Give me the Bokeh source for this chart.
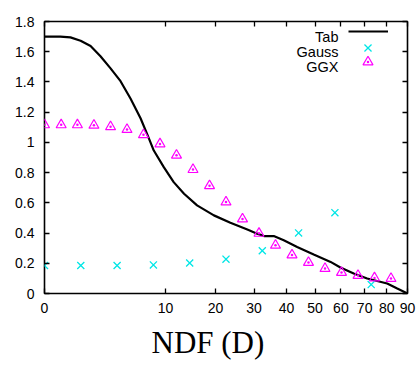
import numpy as np
from bokeh.plotting import figure
from bokeh.models import (ColumnDataSource, FixedTicker, LinearAxis, Range1d,
                          Legend, LegendItem, Label, Title)
from bokeh.embed import file_html
from bokeh.resources import INLINE

# ---- data (angles in degrees; the x axis is a square-root scale of the angle) ----
tab_theta = [0, 0.17, 0.46, 0.89, 1.45, 2.14, 2.98, 3.95, 5.05, 6.30, 7.20, 8.16,
             9.72, 11.4, 13.3, 15.9, 19.6, 23.6, 28.1, 30.9, 32.9, 35.9, 39.1,
             43.6, 49.5, 55.9, 59.8, 65.3, 71.1, 80.2, 85.0, 90.0]
tab_val = [1.70, 1.70, 1.695, 1.673, 1.638, 1.57, 1.49, 1.405, 1.29, 1.16, 1.055,
           0.946, 0.836, 0.737, 0.660, 0.583, 0.517, 0.468, 0.423, 0.396, 0.380,
           0.380, 0.352, 0.308, 0.258, 0.209, 0.172, 0.132, 0.099, 0.066, 0.033, 0.0]

gauss_theta = [0, 0.9, 3.6, 8.1, 14.4, 22.5, 32.4, 44.1, 57.6, 72.9]
gauss_val = [0.185, 0.185, 0.185, 0.189, 0.202, 0.227, 0.283, 0.401, 0.535, 0.059]

ggx_theta = [0, 0.19, 0.74, 1.67, 2.98, 4.65, 6.69, 9.11, 11.9, 15.06, 18.6, 22.5,
             26.78, 31.43, 36.45, 41.84, 47.6, 53.74, 60.25, 67.13, 74.38, 82.0]
ggx_val = [1.116, 1.116, 1.116, 1.113, 1.103, 1.085, 1.05, 0.99, 0.915, 0.82,
           0.713, 0.605, 0.493, 0.398, 0.319, 0.255, 0.205, 0.165, 0.139, 0.119,
           0.103, 0.099]

x_tick_deg = [0, 10, 20, 30, 40, 50, 60, 70, 80, 90]
x_tick_labels = ["0", "10", "20", "30", "40", "50", "60", "70", "80", "90"]
y_ticks = [0, 0.2, 0.4, 0.6, 0.8, 1.0, 1.2, 1.4, 1.6, 1.8]
y_tick_labels = ["0", "0.2", "0.4", "0.6", "0.8", "1", "1.2", "1.4", "1.6", "1.8"]

legend_names = ["Tab", "Gauss", "GGX"]
x_title = "NDF (D)"

THETA_MAX = 90.0


def sq(theta):
    return np.sqrt(np.asarray(theta, dtype=float) / THETA_MAX)


FONT = "Liberation Sans"
CYAN = "#00e6e6"
MAGENTA = "#ff00ff"

p = figure(width=417, height=368, output_backend="svg", toolbar_location=None,
           x_range=Range1d(0, 1), y_range=Range1d(0, 1.8),
           min_border_left=44, min_border_right=10, min_border_top=21,
           min_border_bottom=75)
p.xgrid.visible = False
p.ygrid.visible = False
p.outline_line_color = "black"
p.outline_line_width = 1.6
p.background_fill_color = "white"
p.border_fill_color = "white"

src_tab = ColumnDataSource(dict(x=sq(tab_theta), y=tab_val))
src_gauss = ColumnDataSource(dict(x=sq(gauss_theta), y=gauss_val))
src_ggx = ColumnDataSource(dict(x=sq(ggx_theta), y=ggx_val))

r_tab = p.line("x", "y", source=src_tab, line_color="black", line_width=2.2)
r_gauss = p.scatter("x", "y", source=src_gauss, marker="x", size=10,
                    line_color=CYAN, line_width=1.3)
r_ggx = p.scatter("x", "y", source=src_ggx, marker="triangle_dot", size=10,
                  fill_color=None, line_color=MAGENTA, line_width=1.2)

xt = sq(x_tick_deg).tolist()
x_overrides = {t: l for t, l in zip(xt, x_tick_labels)}
y_overrides = {t: l for t, l in zip(y_ticks, y_tick_labels)}


def style_axis(ax, ticks, overrides, show_labels, standoff):
    ax.ticker = FixedTicker(ticks=ticks)
    ax.axis_line_color = None
    ax.major_tick_in = 5
    ax.major_tick_out = 0
    ax.major_tick_line_color = "black"
    ax.major_tick_line_width = 1.3
    ax.minor_tick_line_color = None
    ax.major_label_text_font = FONT
    if show_labels:
        ax.major_label_overrides = overrides
        ax.major_label_text_color = "black"
        ax.major_label_text_font_size = "14px"
        ax.major_label_standoff = standoff
    else:
        ax.major_label_text_color = None
        ax.major_label_text_font_size = "1px"
        ax.major_label_standoff = 0


style_axis(p.xaxis[0], xt, x_overrides, True, 9)
style_axis(p.yaxis[0], y_ticks, y_overrides, True, 10)

top_axis = LinearAxis()
style_axis(top_axis, xt, x_overrides, False, 0)
p.add_layout(top_axis, "above")
right_axis = LinearAxis()
style_axis(right_axis, y_ticks, y_overrides, False, 0)
p.add_layout(right_axis, "right")


def make_legend(renderer, loc, gw, gh):
    lg = Legend(items=[LegendItem(label=" ", renderers=[renderer])],
                location=loc, glyph_width=gw, glyph_height=gh,
                label_width=0, label_height=gh, label_standoff=0,
                label_text_font_size="1px", label_text_color=None,
                padding=0, margin=0, spacing=0,
                border_line_color=None, background_fill_alpha=0)
    p.add_layout(lg)


make_legend(r_tab, (304, 254), 40, 16)
make_legend(r_gauss, (311, 233), 25, 25)
make_legend(r_ggx, (311, 219), 25, 25)

for name, yb in zip(legend_names, [257, 242, 227]):
    p.add_layout(Label(x=294, y=yb, x_units="screen", y_units="screen",
                       text=name, text_align="right", text_baseline="alphabetic",
                       text_font=FONT, text_font_size="14.5px", text_color="black"))

p.add_layout(Title(text=x_title, align="left", offset=107,
                   text_font="Liberation Serif", text_font_size="31px",
                   text_font_style="normal", text_color="black", standoff=15,
                   vertical_align="bottom"),
             "below")

open("out.html", "w").write(file_html(p, INLINE))
